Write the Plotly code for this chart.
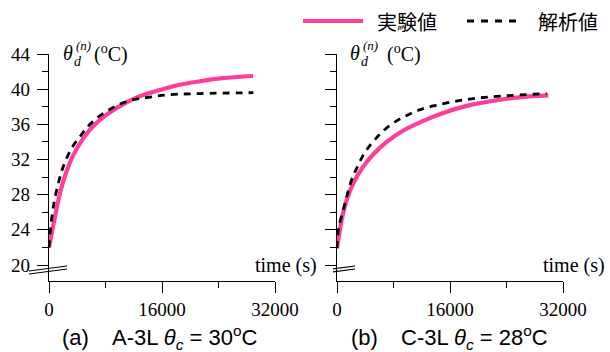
import plotly.graph_objects as go

W, H = 610, 352

# ---------------- data ----------------
# (a) A-3L
t_exp_a = [0, 850, 1560, 2500, 3440, 4860, 6270, 8170, 10520, 12880, 15720, 18500, 21400, 24500, 28900]
v_exp_a = [22.0, 25.5, 28.2, 30.7, 32.5, 34.4, 35.8, 37.1, 38.3, 39.2, 39.9, 40.5, 40.9, 41.25, 41.5]
t_ana_a = [0, 150, 610, 1320, 2020, 3210, 4390, 5340, 6750, 8400, 10050, 11940, 14300, 16660, 21380, 28930]
v_ana_a = [22.0, 23.6, 26.6, 29.3, 31.2, 33.3, 34.6, 35.6, 36.7, 37.6, 38.3, 38.8, 39.1, 39.35, 39.5, 39.6]
# (b) C-3L
t_exp_b = [0, 660, 1370, 2310, 3720, 5140, 7040, 9390, 12220, 15050, 18360, 23080, 27800, 29920]
v_exp_b = [21.9, 25.1, 27.4, 29.3, 31.2, 32.6, 34.0, 35.3, 36.4, 37.3, 38.1, 38.8, 39.2, 39.3]
t_ana_b = [0, 190, 1130, 2080, 2790, 3720, 4670, 5850, 7040, 8450, 9870, 11510, 13640, 16000, 19000, 23080, 29690]
v_ana_b = [21.9, 24.0, 27.0, 29.7, 31.0, 32.5, 33.6, 34.7, 35.6, 36.4, 37.0, 37.6, 38.1, 38.5, 38.9, 39.2, 39.5]

series_names = ["実験値", "解析値"]
captions = [("(a)", "A-3L", "30"), ("(b)", "C-3L", "28")]
y_ticks = [20, 24, 28, 32, 36, 40, 44]
x_ticks = [0, 16000, 32000]

PINK = "#ff3d9b"
SERIF = "Liberation Serif, Times New Roman, serif"
SANS = "Liberation Sans, Arial, sans-serif"
CJK = "Noto Sans CJK JP, sans-serif"


def PX(px):
    return px / W


def PY(py):
    return 1 - py / H


fig = go.Figure()
for (te, ve, ta, va, xa, ya) in [
    (t_exp_a, v_exp_a, t_ana_a, v_ana_a, "x", "y"),
    (t_exp_b, v_exp_b, t_ana_b, v_ana_b, "x2", "y2"),
]:
    fig.add_trace(go.Scatter(x=te, y=ve, mode="lines", name=series_names[0],
                             line=dict(color=PINK, width=4.2, shape="spline", smoothing=1.0),
                             xaxis=xa, yaxis=ya, showlegend=False))
    fig.add_trace(go.Scatter(x=ta, y=va, mode="lines", name=series_names[1],
                             line=dict(color="black", width=2.8, dash="7px,6px", shape="spline", smoothing=1.0),
                             xaxis=xa, yaxis=ya, showlegend=False))

ydom = [PY(281), PY(54)]


def yax(show_labels, anchor):
    return dict(range=[18.18, 44], domain=ydom, anchor=anchor, automargin=False,
                showline=True, linecolor="black", linewidth=1.3,
                ticks="outside", ticklen=11, tickwidth=1.3, tickcolor="black",
                tickvals=y_ticks, showticklabels=show_labels,
                minor=dict(ticks="outside", ticklen=6, tickwidth=1.3, tickcolor="black",
                           dtick=2, tick0=20, showgrid=False),
                showgrid=False, zeroline=False, ticklabelstandoff=3,
                tickfont=dict(family=SERIF, size=19, color="black"), fixedrange=True)


def xax(dom, anchor):
    return dict(range=[0, 32000], domain=dom, anchor=anchor, automargin=False,
                showline=True, linecolor="black", linewidth=1.3,
                ticks="outside", ticklen=11, tickwidth=1.3, tickcolor="black",
                tickvals=x_ticks, tickformat="d",
                minor=dict(ticks="outside", ticklen=6, tickwidth=1.3, tickcolor="black",
                           dtick=8000, tick0=0, showgrid=False),
                showgrid=False, zeroline=False,
                tickfont=dict(family=SERIF, size=19, color="black"), fixedrange=True)


fig.update_layout(
    width=W, height=H, autosize=False,
    margin=dict(l=0, r=0, t=0, b=0, pad=0, autoexpand=False),
    paper_bgcolor="white", plot_bgcolor="white",
    xaxis=xax([PX(49), PX(275)], "y"),
    yaxis=yax(True, "x"),
    xaxis2=xax([PX(337), PX(563)], "y2"),
    yaxis2=yax(False, "x2"),
    showlegend=False,
)

ann = []
shapes = []


def text(px, py, s, size, family, xanchor="left", yanchor="middle"):
    ann.append(dict(x=PX(px), y=PY(py), xref="paper", yref="paper", text=s, showarrow=False,
                    xanchor=xanchor, yanchor=yanchor, borderpad=0,
                    font=dict(family=family, size=size, color="black")))


# legend
shapes.append(dict(type="line", xref="paper", yref="paper", x0=PX(303), x1=PX(363), y0=PY(21), y1=PY(21),
                   line=dict(color=PINK, width=4)))
text(376, 21, series_names[0], 20, CJK)
shapes.append(dict(type="line", xref="paper", yref="paper", x0=PX(467), x1=PX(519), y0=PY(21), y1=PY(21),
                   line=dict(color="black", width=2.8, dash="7px,7px")))
text(537, 21, series_names[1], 20, CJK)

# per-panel texts
for off, (lab, name, temp) in [(0, captions[0]), (288, captions[1])]:
    tx = 62 if not off else 349
    text(tx, 53, "<i>θ</i>", 20, SERIF)
    text(tx + 11, 61, "<i>d</i>", 14, SERIF)
    text(tx + 13, 46, "<i>(n)</i>", 13, SERIF)
    text(tx + 31 + (6 if off else 0), 53, "(<sup>o</sup>C)", 20, SERIF)
    text(254 + off, 265, "time (s)", 20, SERIF)
    text(61 + off + (1 if off else 0), 337, lab, 22, SANS)
    text(111 + off + (1 if off else 0), 337,
         f"{name} <i>θ</i><sub><i>c</i></sub> = {temp}<sup>o</sup>C", 22, SANS)

# axis break marks
for x0, x1, xb in [(29, 67, 29), (333, 355, 317)]:
    for dy in (0, 3):
        ya0 = 271 + dy + (x0 - xb) * (-5 / 38)
        ya1 = 271 + dy + (x1 - xb) * (-5 / 38)
        shapes.append(dict(type="line", xref="paper", yref="paper",
                           x0=PX(x0), x1=PX(x1), y0=PY(ya0), y1=PY(ya1),
                           line=dict(color="black", width=1.2)))

fig.update_layout(annotations=ann, shapes=shapes)
fig.write_html("out.html")
